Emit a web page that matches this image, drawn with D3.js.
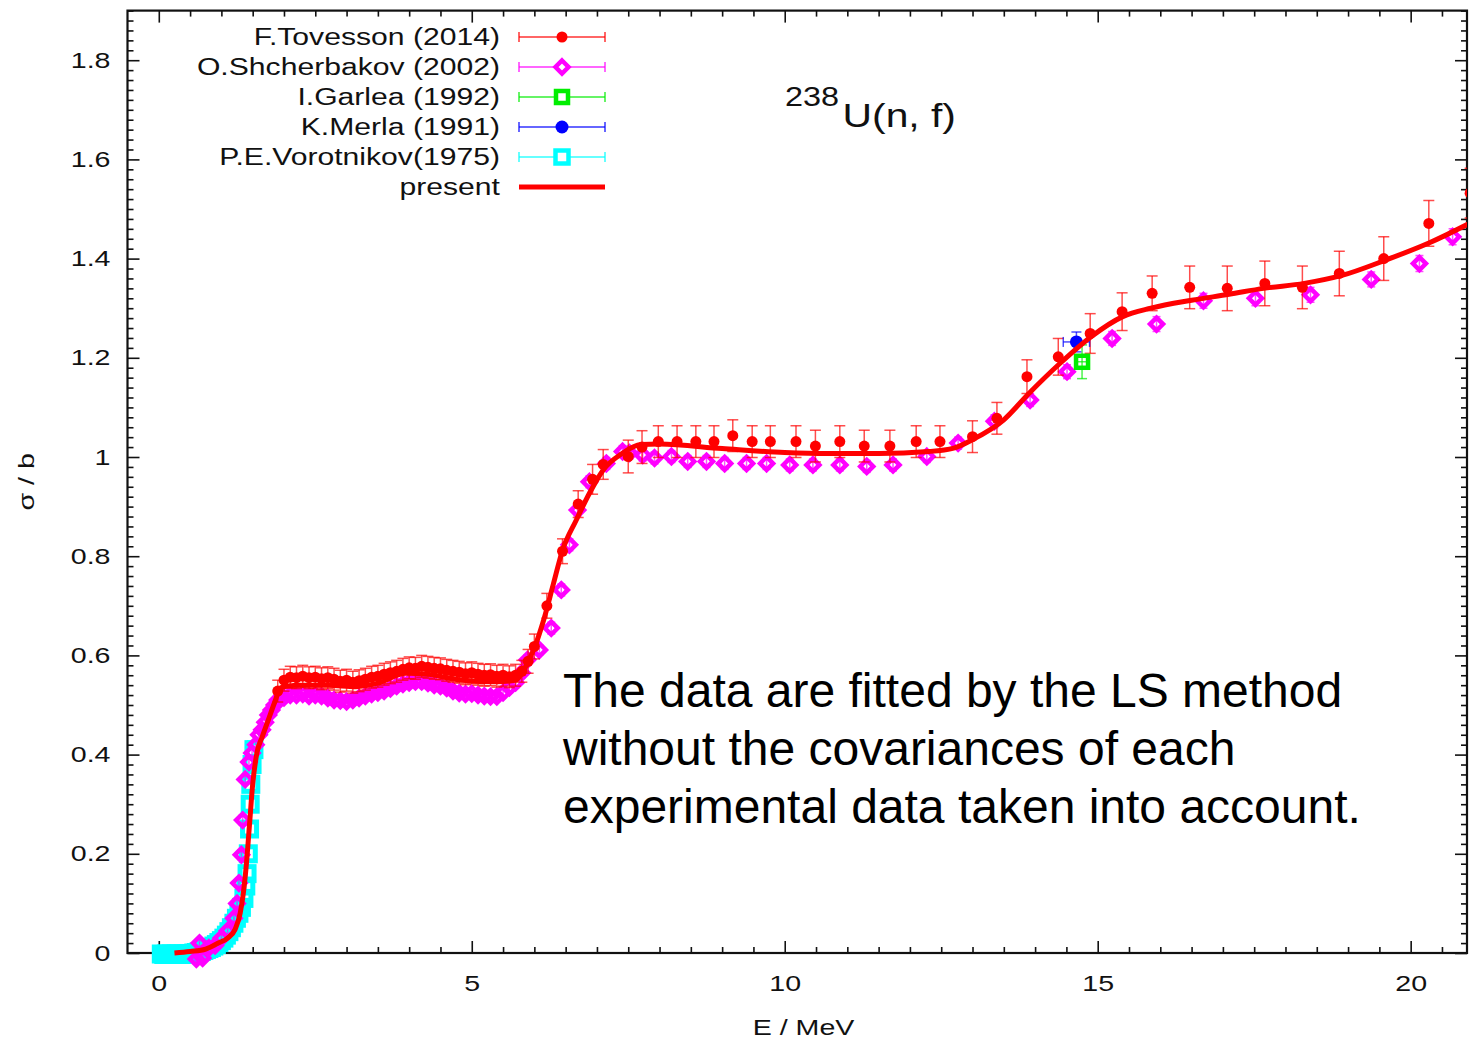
<!DOCTYPE html>
<html>
<head>
<meta charset="utf-8">
<script src="https://cdn.jsdelivr.net/npm/d3@7"></script>
<style>
  body { margin: 0; background: #fff; }
  svg { display: block; }
  text { font-family: "Liberation Sans", Arial, Helvetica, sans-serif; }
</style>
</head>
<body>
<svg id="chart" width="1472" height="1039"></svg>
<script>
// 238U(n,f) cross section: measured data sets [E (MeV), sigma (b), d-sigma (b)]
const tovesson2014 = [
  [1.9,0.528,0.022],[2.0,0.550,0.022],[2.1,0.556,0.022],[2.2,0.555,0.022],[2.3,0.558,0.022],
  [2.4,0.555,0.022],[2.5,0.556,0.022],[2.6,0.553,0.022],[2.7,0.555,0.022],[2.8,0.552,0.022],
  [2.9,0.548,0.022],[3.0,0.550,0.022],[3.1,0.546,0.022],[3.2,0.549,0.022],[3.3,0.552,0.022],
  [3.4,0.556,0.022],[3.5,0.558,0.022],[3.6,0.562,0.022],[3.7,0.565,0.022],[3.8,0.568,0.022],
  [3.9,0.572,0.022],[4.0,0.575,0.022],[4.1,0.574,0.022],[4.2,0.578,0.022],[4.3,0.576,0.022],
  [4.4,0.574,0.022],[4.5,0.573,0.022],[4.6,0.570,0.022],[4.7,0.568,0.022],[4.8,0.566,0.022],
  [4.9,0.563,0.022],[5.0,0.565,0.022],[5.1,0.562,0.022],[5.2,0.560,0.022],[5.3,0.561,0.022],
  [5.4,0.558,0.022],[5.5,0.560,0.022],[5.6,0.557,0.022],[5.7,0.560,0.022],[5.8,0.568,0.022],
  [5.9,0.588,0.024],[6.0,0.618,0.025],[6.2,0.700,0.025],[6.45,0.810,0.025],[6.7,0.905,0.027],
  [6.93,0.955,0.030],[7.1,0.985,0.030],[7.5,1.001,0.033],[7.72,1.020,0.033],[7.98,1.031,0.032],
  [8.28,1.031,0.032],[8.58,1.031,0.032],[8.87,1.031,0.032],[9.17,1.043,0.032],[9.48,1.031,0.032],
  [9.77,1.031,0.032],[10.18,1.031,0.032],[10.49,1.022,0.032],[10.88,1.031,0.032],[11.27,1.022,0.032],
  [11.68,1.022,0.032],[12.1,1.031,0.032],[12.48,1.031,0.032],[13.0,1.041,0.032],[13.39,1.078,0.032],
  [13.87,1.162,0.034],[14.37,1.202,0.037],[14.88,1.249,0.040],[15.39,1.293,0.038],[15.87,1.330,0.035],
  [16.47,1.342,0.043],[17.07,1.340,0.045],[17.67,1.350,0.045],[18.27,1.342,0.043],[18.86,1.370,0.045],
  [19.57,1.400,0.044],[20.29,1.471,0.046],[20.95,1.532,0.050]
];

const shcherbakov2002 = [
  [0.6,-0.012,0.008],[0.65,0.020,0.008],[0.7,-0.010,0.008],[0.8,0.010,0.008],[0.9,0.015,0.008],
  [1.0,0.030,0.008],[1.1,0.045,0.008],[1.2,0.070,0.008],[1.25,0.100,0.008],[1.28,0.141,0.010],
  [1.32,0.198,0.010],[1.34,0.268,0.010],[1.38,0.350,0.010],[1.44,0.385,0.010],[1.49,0.403,0.010],
  [1.55,0.420,0.010],[1.6,0.440,0.010],[1.65,0.450,0.010],[1.7,0.465,0.010],[1.75,0.480,0.010],
  [1.8,0.490,0.010],[1.85,0.500,0.010],[1.9,0.510,0.010],[2.0,0.515,0.010],[2.1,0.520,0.010],
  [2.2,0.520,0.010],[2.3,0.522,0.010],[2.4,0.518,0.010],[2.5,0.520,0.010],[2.6,0.518,0.010],
  [2.7,0.514,0.010],[2.8,0.510,0.010],[2.9,0.509,0.010],[3.0,0.507,0.010],[3.1,0.510,0.010],
  [3.2,0.514,0.010],[3.3,0.518,0.010],[3.4,0.522,0.010],[3.5,0.525,0.010],[3.6,0.528,0.010],
  [3.7,0.533,0.010],[3.8,0.538,0.010],[3.9,0.542,0.010],[4.0,0.545,0.010],[4.1,0.547,0.010],
  [4.2,0.547,0.010],[4.3,0.544,0.010],[4.4,0.540,0.010],[4.5,0.538,0.010],[4.6,0.534,0.010],
  [4.7,0.528,0.010],[4.8,0.524,0.010],[4.9,0.522,0.010],[5.0,0.523,0.010],[5.1,0.520,0.010],
  [5.2,0.518,0.010],[5.3,0.517,0.010],[5.4,0.517,0.010],[5.5,0.525,0.010],[5.6,0.535,0.010],
  [5.7,0.545,0.010],[5.8,0.565,0.010],[5.89,0.591,0.010],[6.08,0.611,0.010],[6.27,0.655,0.012],
  [6.43,0.732,0.012],[6.56,0.823,0.012],[6.69,0.893,0.012],[6.88,0.950,0.012],[7.15,0.987,0.012],
  [7.41,1.011,0.012],[7.52,1.008,0.012],[7.73,1.004,0.012],[7.92,0.998,0.012],[8.19,1.001,0.012],
  [8.45,0.991,0.012],[8.75,0.991,0.012],[9.04,0.987,0.012],[9.39,0.987,0.012],[9.71,0.987,0.012],
  [10.08,0.984,0.012],[10.45,0.984,0.012],[10.88,0.984,0.012],[11.31,0.981,0.012],[11.73,0.984,0.012],
  [12.27,1.001,0.012],[12.77,1.028,0.012],[13.35,1.072,0.013],[13.92,1.115,0.013],[14.51,1.172,0.014],
  [15.23,1.239,0.014],[15.94,1.268,0.015],[16.69,1.315,0.015],[17.52,1.320,0.015],[18.4,1.327,0.015],
  [19.37,1.358,0.015],[20.14,1.390,0.016],[20.67,1.444,0.016]
];

const garlea1992 = [[14.75,1.192,0.034]];
const garleaDE = [0.08];

const merla1991 = [[14.66,1.232,0.020]];
const merlaDE = [0.21];

const vorotnikov1975 = [
  [0.04,-0.002,0.012],[0.08,-0.003,0.012],[0.12,-0.002,0.012],[0.16,-0.003,0.012],[0.20,-0.002,0.012],
  [0.24,-0.003,0.012],[0.28,-0.002,0.012],[0.32,-0.002,0.012],[0.36,-0.003,0.012],[0.40,-0.002,0.012],
  [0.44,-0.002,0.012],[0.48,-0.001,0.012],[0.52,-0.001,0.012],[0.56,0.000,0.012],[0.60,0.001,0.012],
  [0.64,0.002,0.012],[0.68,0.003,0.012],[0.72,0.005,0.012],[0.76,0.007,0.012],[0.80,0.009,0.012],
  [0.84,0.011,0.012],[0.88,0.014,0.012],[0.92,0.017,0.012],[0.96,0.021,0.012],[1.00,0.025,0.012],
  [1.04,0.030,0.012],[1.08,0.036,0.012],[1.12,0.043,0.012],[1.16,0.051,0.012],[1.20,0.060,0.012],
  [1.24,0.070,0.012],[1.28,0.080,0.012],[1.32,0.092,0.012],[1.36,0.110,0.012],[1.39,0.135,0.012],
  [1.41,0.160,0.014],[1.43,0.200,0.014],[1.45,0.250,0.016],[1.46,0.300,0.016],[1.47,0.340,0.016],
  [1.49,0.380,0.018],[1.52,0.410,0.018]
];

// least-squares evaluation ("present")
const presentE = [0.25,0.5,0.75,0.95,1.1,1.22,1.3,1.35,1.4,1.45,1.5,1.57,1.65,1.75,1.85,1.95,2.2,2.7,
  3.15,3.5,3.95,4.3,4.85,5.4,5.7,5.85,6.0,6.15,6.3,6.45,6.67,6.88,7.1,7.4,7.7,8.0,9.0,10.0,10.7,11.5,
  12.3,12.7,13.0,13.5,13.9,14.4,14.9,15.4,15.85,16.5,17.1,17.65,18.3,18.9,19.6,20.3,21.0];
const presentSigma = [0.0,0.003,0.008,0.02,0.03,0.048,0.08,0.12,0.18,0.26,0.34,0.405,0.435,0.47,0.505,
  0.535,0.540,0.540,0.537,0.544,0.564,0.562,0.550,0.547,0.550,0.575,0.615,0.672,0.742,0.812,0.873,0.927,
  0.974,1.007,1.025,1.026,1.017,1.009,1.007,1.007,1.011,1.018,1.035,1.075,1.128,1.189,1.243,1.283,1.300,
  1.316,1.328,1.340,1.350,1.366,1.397,1.432,1.475];

const xMajorTicks = [0, 5, 10, 15, 20];
const xTickLabels = ["0", "5", "10", "15", "20"];
const yMajorTicks = [0, 0.2, 0.4, 0.6, 0.8, 1.0, 1.2, 1.4, 1.6, 1.8];
const yTickLabels = ["0", "0.2", "0.4", "0.6", "0.8", "1", "1.2", "1.4", "1.6", "1.8"];

const legendLabels = ["F.Tovesson (2014)", "O.Shcherbakov (2002)", "I.Garlea (1992)",
  "K.Merla (1991)", "P.E.Vorotnikov(1975)", "present"];

const noteLines = ["The data are fitted by the LS method",
  "without the covariances of each",
  "experimental data taken into account."];

// ---------------------------------------------------------------------------
const svg = d3.select("#chart");
const L = 127.5, R = 1467, T = 10.6, B = 953;
const x = d3.scaleLinear().domain([-0.5, 20.9]).range([L, R]);
const y = d3.scaleLinear().domain([0, 1.9]).range([B, T]);
const SX = 1.3; // gnuplot text is horizontally wide

const C = { red: "#ff0000", mag: "#ff00ff", grn: "#00ee00", blu: "#0000ff", cyn: "#00ffff" };

svg.append("defs").append("clipPath").attr("id", "plotClip")
  .append("rect").attr("x", L).attr("y", T).attr("width", R - L).attr("height", 975 - T);

// ---- axes with inward ticks on all four sides
const xMinor = d3.range(0, 21, 0.5).filter(v => v % 5 !== 0);
const yMinor = d3.range(0, 191, 2).map(v => v / 100).filter(v => Math.round(v * 100) % 20 !== 0);

function styleAxis(g) {
  g.select(".domain").remove();
  g.selectAll("line").attr("stroke", "#111").attr("stroke-width", 1.6);
}

svg.append("g").attr("transform", `translate(0,${B})`)
  .call(d3.axisBottom(x).tickValues(xMinor).tickSize(-6).tickFormat(""))
  .call(styleAxis);
const xb = svg.append("g").attr("transform", `translate(0,${B})`)
  .call(d3.axisBottom(x).tickValues(xMajorTicks).tickSize(-12).tickPadding(22)
    .tickFormat((d, i) => xTickLabels[i]))
  .call(styleAxis);
svg.append("g").attr("transform", `translate(0,${T})`)
  .call(d3.axisTop(x).tickValues(xMinor).tickSize(-6).tickFormat(""))
  .call(styleAxis);
svg.append("g").attr("transform", `translate(0,${T})`)
  .call(d3.axisTop(x).tickValues(xMajorTicks).tickSize(-12).tickFormat(""))
  .call(styleAxis);

svg.append("g").attr("transform", `translate(${L},0)`)
  .call(d3.axisLeft(y).tickValues(yMinor).tickSize(-6).tickFormat(""))
  .call(styleAxis);
const yl = svg.append("g").attr("transform", `translate(${L},0)`)
  .call(d3.axisLeft(y).tickValues(yMajorTicks).tickSize(-12).tickPadding(17)
    .tickFormat((d, i) => yTickLabels[i]))
  .call(styleAxis);
svg.append("g").attr("transform", `translate(${R},0)`)
  .call(d3.axisRight(y).tickValues(yMinor).tickSize(-6).tickFormat(""))
  .call(styleAxis);
svg.append("g").attr("transform", `translate(${R},0)`)
  .call(d3.axisRight(y).tickValues(yMajorTicks).tickSize(-12).tickFormat(""))
  .call(styleAxis);

xb.selectAll("text").attr("font-size", 22).attr("fill", "#111")
  .attr("font-family", "Liberation Sans, Arial, sans-serif")
  .attr("transform", `scale(${SX},1)`);
yl.selectAll("text").attr("font-size", 22).attr("fill", "#111")
  .attr("font-family", "Liberation Sans, Arial, sans-serif")
  .attr("x", -17 / SX).attr("transform", `scale(${SX},1)`);

// frame
svg.append("rect").attr("x", L).attr("y", T).attr("width", R - L).attr("height", B - T)
  .attr("fill", "none").attr("stroke", "#111").attr("stroke-width", 2.2);

// axis titles
svg.append("text").attr("transform", `translate(${x(10.3)},1035) scale(${SX},1)`)
  .attr("text-anchor", "middle").attr("font-size", 22).attr("fill", "#111").text("E / MeV");
svg.append("text").attr("transform", `translate(34,${y(0.95)}) rotate(-90) scale(${SX},1)`)
  .attr("text-anchor", "middle").attr("font-size", 22).attr("fill", "#111").text("σ / b");

// ---- marker helpers
const plot = svg.append("g").attr("clip-path", "url(#plotClip)");
const diamond = s => `M0,${-s}L${s},0L0,${s}L${-s},0Z`;

function errorBars(g, data, color, cap, dE) {
  const gg = g.append("g").attr("stroke", color).attr("stroke-width", 1.5).attr("stroke-opacity", 0.7);
  data.forEach((d, i) => {
    const cx = x(d[0]), y0 = y(d[1] - d[2]), y1 = y(d[1] + d[2]);
    gg.append("line").attr("x1", cx).attr("x2", cx).attr("y1", y0).attr("y2", y1);
    gg.append("line").attr("x1", cx - cap).attr("x2", cx + cap).attr("y1", y0).attr("y2", y0);
    gg.append("line").attr("x1", cx - cap).attr("x2", cx + cap).attr("y1", y1).attr("y2", y1);
    if (dE) {
      const e = dE[i], xa = x(d[0] - e), xb2 = x(d[0] + e), cy = y(d[1]);
      gg.append("line").attr("x1", xa).attr("x2", xb2).attr("y1", cy).attr("y2", cy);
      gg.append("line").attr("x1", xa).attr("x2", xa).attr("y1", cy - cap).attr("y2", cy + cap);
      gg.append("line").attr("x1", xb2).attr("x2", xb2).attr("y1", cy - cap).attr("y2", cy + cap);
    }
  });
}

// Vorotnikov: open cyan squares
errorBars(plot, vorotnikov1975, C.cyn, 7);
plot.append("g").selectAll("rect").data(vorotnikov1975).join("rect")
  .attr("x", d => x(d[0]) - 7).attr("y", d => y(d[1]) - 7)
  .attr("width", 14).attr("height", 14)
  .attr("fill", "none").attr("stroke", C.cyn).attr("stroke-width", 5);

// Shcherbakov: open magenta diamonds
errorBars(plot, shcherbakov2002, C.mag, 4);
plot.append("g").selectAll("path").data(shcherbakov2002).join("path")
  .attr("transform", d => `translate(${x(d[0])},${y(d[1])})`)
  .attr("d", diamond(6.5)).attr("fill", "none").attr("stroke", C.mag).attr("stroke-width", 4.5);

// Tovesson: filled red dots
errorBars(plot, tovesson2014, C.red, 5.5);
plot.append("g").selectAll("circle").data(tovesson2014).join("circle")
  .attr("cx", d => x(d[0])).attr("cy", d => y(d[1])).attr("r", 5.5).attr("fill", C.red);

// Garlea: open green square
errorBars(plot, garlea1992, C.grn, 5, garleaDE);
plot.append("g").selectAll("rect").data(garlea1992).join("rect")
  .attr("x", d => x(d[0]) - 6).attr("y", d => y(d[1]) - 6).attr("width", 12).attr("height", 12)
  .attr("fill", "none").attr("stroke", C.grn).attr("stroke-width", 4.5);

// Merla: filled blue dot
errorBars(plot, merla1991, C.blu, 5, merlaDE);
plot.append("g").selectAll("circle").data(merla1991).join("circle")
  .attr("cx", d => x(d[0])).attr("cy", d => y(d[1])).attr("r", 6.5).attr("fill", C.blu);

// present evaluation curve
const presentPts = presentE.map((e, i) => [e, presentSigma[i]]);
plot.append("path").datum(presentPts)
  .attr("d", d3.line().x(d => x(d[0])).y(d => y(d[1])).curve(d3.curveMonotoneX))
  .attr("fill", "none").attr("stroke", C.red).attr("stroke-width", 5)
  .attr("stroke-linejoin", "round");

// ---- legend
const LSX = 1.31;
const legX1 = 519, legX2 = 605, legM = 562, legText = 500;
const legRows = [37, 67, 97, 127, 157, 187];
const legColors = [C.red, C.mag, C.grn, C.blu, C.cyn, C.red];
const leg = svg.append("g");
legendLabels.forEach((lab, i) => {
  const ry = legRows[i];
  leg.append("text").attr("transform", `translate(${legText},${ry}) scale(${LSX},1)`)
    .attr("text-anchor", "end").attr("dy", "0.36em").attr("font-size", 23).attr("fill", "#111")
    .text(lab);
  const col = legColors[i];
  if (i === 5) {
    leg.append("line").attr("x1", legX1).attr("x2", legX2).attr("y1", ry).attr("y2", ry)
      .attr("stroke", col).attr("stroke-width", 5);
    return;
  }
  const g = leg.append("g").attr("stroke", col).attr("stroke-width", 1.5).attr("stroke-opacity", 0.8);
  g.append("line").attr("x1", legX1).attr("x2", legX2).attr("y1", ry).attr("y2", ry);
  g.append("line").attr("x1", legX1).attr("x2", legX1).attr("y1", ry - 5).attr("y2", ry + 5);
  g.append("line").attr("x1", legX2).attr("x2", legX2).attr("y1", ry - 5).attr("y2", ry + 5);
  if (i === 0) leg.append("circle").attr("cx", legM).attr("cy", ry).attr("r", 5.5).attr("fill", col);
  if (i === 1) leg.append("path").attr("transform", `translate(${legM},${ry})`).attr("d", diamond(6.5))
    .attr("fill", "#fff").attr("stroke", col).attr("stroke-width", 4.5);
  if (i === 2) leg.append("rect").attr("x", legM - 6).attr("y", ry - 6).attr("width", 12).attr("height", 12)
    .attr("fill", "#fff").attr("stroke", col).attr("stroke-width", 4.5);
  if (i === 3) leg.append("circle").attr("cx", legM).attr("cy", ry).attr("r", 6.5).attr("fill", col);
  if (i === 4) leg.append("rect").attr("x", legM - 6.5).attr("y", ry - 6.5).attr("width", 13).attr("height", 13)
    .attr("fill", "#fff").attr("stroke", col).attr("stroke-width", 4.5);
});

// ---- reaction label
const title = svg.append("g").attr("transform", `translate(785,0) scale(1.2,1)`).attr("fill", "#111");
title.append("text").attr("x", 0).attr("y", 106).attr("font-size", 27).text("238");
title.append("text").attr("x", 48).attr("y", 127).attr("font-size", 34).text("U(n, f)");

// ---- note
const note = svg.append("text").attr("x", 563).attr("font-size", 48).attr("fill", "#000");
noteLines.forEach((t, i) => {
  note.append("tspan").attr("x", 563).attr("y", 707 + i * 58).text(t);
});
</script>
</body>
</html>
